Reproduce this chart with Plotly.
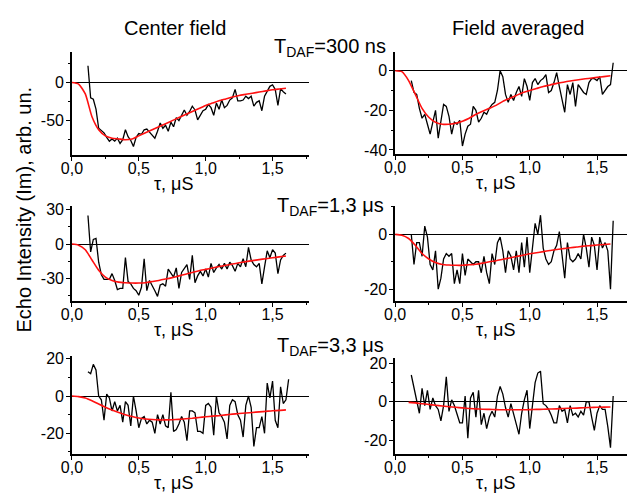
import plotly.graph_objects as go

W, H = 627, 498

# x grid of the measured echo data (tau, microseconds) and of the fit curves
tau = [round(0.12 + 0.02 * i, 2) for i in range(76)]
tau_fit = [round(0.05 * i, 2) for i in range(33)]

center_300 = [22, -20, -22, -35, -60, -63, -66, -72, -77, -74, -77, -73, -80, -75, -62, -71,
              -76, -84, -72, -67, -68, -62, -61, -65, -69, -73, -64, -53, -60, -56, -64, -52,
              -58, -46, -50, -43, -36, -43, -38, -31, -36, -49, -42, -37, -35, -29, -33, -43,
              -27, -35, -23, -33, -30, -23, -20, -9, -24, -24, -23, -18, -21, -18, -31, -26,
              -24, -37, -18, -12, -5, -3, -9, -30, -8, -12, -15]
avg_300 = [-5, -11, -12, -19, -24, -22, -27, -32, -26, -20, -34, -25, -17, -18, -23, -32,
           -26, -27, -25, -38, -32, -28, -27, -18, -20, -26, -24, -21, -22, -19, -17, -16,
           -10, 0, -3, -12, -16, -12, -15, -11, -8, -13, -4, -8, -15, -6, -4, -7,
           -5, -4, -2, -11, -10, -6, -1, -8, -14, -21, -7, -12, -6, -18, -7, -9,
           -11, -12, -6, -4, -4, -5, -3, -12, -10, -8, -7, 4]
center_1_3 = [25, -7, 4, 5, -16, -27, -31, -31, -31, -26, -32, -40, -39, -39, -12, -33,
              -35, -39, -41, -45, -38, -13, -41, -32, -36, -41, -46, -36, -35, -37, -22, -25,
              -29, -21, -39, -25, -21, -18, -31, -10, -34, -28, -24, -28, -22, -29, -17, -25,
              -21, -18, -22, -17, -22, -16, -19, -24, -17, -20, -13, -20, -3, -14, -18, -20,
              -17, -35, -20, -6, -12, -5, -8, -26, -14, -10, -8]
avg_1_3 = [0, -11, -3, -3, -8, 3, -1, -11, -13, -6, -20, -16, -9, -7, -8, -7,
           -18, -13, -18, -7, -15, -9, -10, -11, -10, -10, -14, -8, -14, -18, -7, -11,
           -3, -1, -6, -14, -6, -8, -13, -6, -14, -3, -12, -1, -14, -4, 4, 0,
           7, -5, -9, -11, -10, -6, -4, 1, -8, -16, -3, -9, -10, -9, -7, -9,
           0, -5, -12, -1, -4, -13, -1, -5, -3, -6, -20, 5]
center_3_3 = [13, 12, 17, 14, 0, -2, -13, 1, -1, -8, -3, -8, -5, -14, -3, -5,
              -16, 0, -8, -17, -12, -11, -15, -13, -14, -20, -10, -15, -10, -16, -17, 2,
              -19, -18, -15, -11, -14, -24, -8, -8, -9, -19, -19, -20, -5, -4, -6, -21,
              0, -9, -11, -14, -23, -5, -2, -3, -10, -13, -22, -5, 0, -6, -27, -17,
              -17, -11, -20, 7, -1, 8, -13, -17, 5, -4, -2, 9]
avg_3_3 = [14, 7, 0, -6, 7, -2, 6, -4, 2, -2, -4, -10, -2, 13, -5, 1,
           -2, -6, -11, -11, 3, -19, 2, 5, -8, 6, -12, -6, -14, -8, -5, -8,
           3, 8, 4, -3, -8, -1, -6, -11, -17, -6, 1, 6, -14, -2, 10, 15,
           16, -1, -2, -4, -7, -11, -11, -2, -5, -4, -11, -2, -7, -6, -8, -5,
           -7, 0, 0, -8, -15, -6, -2, -4, -4, -13, -24, 3]

# ---- fitted curves ----
fit_center_300 = [0, -2, -15, -45, -62, -70, -73, -74, -75, -74, -70, -66, -62, -58, -54, -50,
                  -46, -42, -38, -34, -30, -27, -24, -21.5, -19, -17, -15.5, -14, -12.5, -11,
                  -9.5, -8.5, -7.5]
fit_avg_300 = [0, -0.5, -5, -12, -19, -23.5, -26, -27, -27, -26.5, -25.5, -24, -22, -20.5,
               -19, -17.5, -15.5, -14, -12.5, -11, -10, -9, -8, -7.2, -6.4, -5.8, -5.2, -4.7,
               -4.2, -3.8, -3.4, -3, -2.6]
fit_center_1_3 = [0, -1, -5, -14, -23, -29, -32, -33.5, -34, -34.3, -34.3, -34, -33, -32,
                  -30.8, -29.5, -28, -26.5, -25, -23.5, -22.3, -21, -19.8, -18.7, -17.6, -16.5,
                  -15.5, -14.6, -13.7, -12.9, -12.1, -11.3, -10.5]
fit_avg_1_3 = [0, -0.3, -1.5, -4, -7, -9, -10.3, -11, -11.2, -11.3, -11.3, -11.1, -10.9, -10.5,
               -10, -9.6, -9.1, -8.6, -8.1, -7.6, -7.1, -6.7, -6.3, -5.9, -5.5, -5.2, -4.9,
               -4.6, -4.3, -4.1, -3.9, -3.7, -3.5]
fit_center_3_3 = [0, -0.3, -1, -2.5, -4.3, -6, -7.5, -8.8, -10, -11, -11.8, -12.3, -12.6,
                  -12.8, -12.8, -12.7, -12.5, -12.2, -11.9, -11.5, -11.1, -10.8, -10.5, -10.1,
                  -9.7, -9.4, -9.1, -8.8, -8.5, -8.2, -7.9, -7.7, -7.4]
fit_avg_3_3 = [0, -0.1, -0.3, -0.6, -1, -1.4, -1.8, -2.2, -2.6, -2.9, -3.2, -3.5, -3.7, -3.9,
               -4.0, -4.1, -4.2, -4.2, -4.2, -4.2, -4.1, -4.0, -3.9, -3.8, -3.7, -3.5, -3.4,
               -3.3, -3.1, -3.0, -2.9, -2.8, -2.7]

column_titles = ["Center field", "Field averaged"]
delay_labels = ["T<sub>DAF</sub>=300 ns", "T<sub>DAF</sub>=1,3 \u03bcs", "T<sub>DAF</sub>=3,3 \u03bcs"]
x_tickvals = [0, 0.5, 1.0, 1.5]
x_ticktext = ["0,0", "0,5", "1,0", "1,5"]
x_title = "\u03c4, \u03bcS"
y_title = "Echo Intensity (Im), arb. un."

series = [center_300, avg_300, center_1_3, avg_1_3, center_3_3, avg_3_3]
fits = [fit_center_300, fit_avg_300, fit_center_1_3, fit_avg_1_3, fit_center_3_3, fit_avg_3_3]
y_ranges = [[-95, 40], [-42, 9.4], [-50, 33.5], [-24.3, 10.4], [-31, 21.6], [-27.2, 23]]
y_ticks = [[0, -50], [0, -20, -40], [30, 0, -30], [0, -20], [20, 0, -20], [20, 0, -20]]
y_minor = [25, 10, 15, 10, 10, 10]
fit_start = [0, 0, 0, 0, 0, 2]

# layout geometry (pixels)
col_px = [(62, 303), (391, 627)]
row_px = [[(48, 153), (205, 302), (358, 458)], [(48, 152), (205, 302), (360, 458)]]
x_ranges = [[0, 1.77], [0, (627 - 391) / 137.0]]
x_title_px = [166, 494]

FONT = "Liberation Sans, Arial, sans-serif"
fig = go.Figure()
layout = dict(width=W, height=H, margin=dict(l=0, r=0, t=0, b=0), autosize=False,
              paper_bgcolor="white", plot_bgcolor="white", showlegend=False,
              font=dict(family=FONT, color="black"))
annotations = []

for k in range(6):
    r, c = divmod(k, 2)
    n = k + 1
    xa = "x" if n == 1 else f"x{n}"
    ya = "y" if n == 1 else f"y{n}"
    fig.add_trace(go.Scatter(x=tau[:len(series[k])], y=series[k], mode="lines",
                             line=dict(color="black", width=1.3), xaxis=xa, yaxis=ya))
    fig.add_trace(go.Scatter(x=tau_fit[fit_start[k]:], y=fits[k][fit_start[k]:], mode="lines",
                             line=dict(color="#ff1010", width=1.6, shape="spline", smoothing=0.6),
                             xaxis=xa, yaxis=ya))
    x0, x1 = col_px[c]
    y0, y1 = row_px[c][r]
    layout[f"xaxis{'' if n == 1 else n}"] = dict(
        domain=[x0 / W, x1 / W], range=x_ranges[c], anchor=ya,
        showline=True, linecolor="black", linewidth=1.5, showgrid=False, zeroline=False,
        ticks="outside", ticklen=4, tickwidth=1.2, tickcolor="black",
        tickvals=x_tickvals, ticktext=x_ticktext, tickfont=dict(size=16, family=FONT),
        ticklabelstandoff=-6,
        minor=dict(dtick=0.25, tick0=0, ticks="outside", ticklen=2.5, tickcolor="black"))
    layout[f"yaxis{'' if n == 1 else n}"] = dict(
        domain=[1 - y1 / H, 1 - y0 / H], range=y_ranges[k], anchor=xa,
        showline=True, linecolor="black", linewidth=1.5, showgrid=False,
        zeroline=True, zerolinecolor="black", zerolinewidth=1.3,
        ticks="outside", ticklen=4, tickwidth=1.2, tickcolor="black",
        tickvals=y_ticks[k], ticktext=[str(v) for v in y_ticks[k]],
        tickfont=dict(size=16, family=FONT), ticklabelstandoff=-1,
        minor=dict(dtick=y_minor[k], tick0=0, ticks="outside", ticklen=2.5, tickcolor="black"))
    # x axis title
    annotations.append(dict(text=x_title, xref="paper", yref="paper",
                            x=x_title_px[c] / W, y=1 - (y1 + 30) / H,
                            xanchor="center", yanchor="middle", showarrow=False,
                            font=dict(size=18, family=FONT)))

for c, t in enumerate(column_titles):
    annotations.append(dict(text=t, xref="paper", yref="paper", x=[167, 516][c] / W,
                            y=1 - 23 / H, xanchor="center", yanchor="middle", showarrow=False,
                            font=dict(size=20, family=FONT)))

for r, t in enumerate(delay_labels):
    annotations.append(dict(text=t, xref="paper", yref="paper", x=325 / W,
                            y=1 - [43, 206, 348][r] / H, xanchor="center", yanchor="middle",
                            showarrow=False, font=dict(size=20, family=FONT)))

annotations.append(dict(text=y_title, xref="paper", yref="paper", x=13 / W, y=1 - 209 / H,
                        xanchor="center", yanchor="middle", textangle=-90, showarrow=False,
                        font=dict(size=20, family=FONT)))

layout["annotations"] = annotations
fig.update_layout(**layout)
fig.write_html("out.html")
